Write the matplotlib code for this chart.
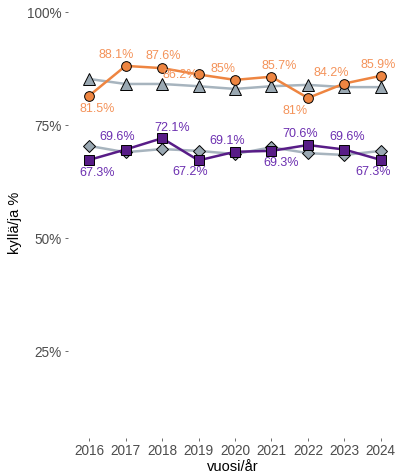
import matplotlib
matplotlib.use("Agg")
import matplotlib.pyplot as plt
from matplotlib.ticker import FuncFormatter

plt.rcParams['font.family'] = ['Liberation Sans', 'DejaVu Sans']

years = [2016, 2017, 2018, 2019, 2020, 2021, 2022, 2023, 2024]
orange_vals = [81.5, 88.1, 87.6, 86.2, 85.0, 85.7, 81.0, 84.2, 85.9]
gray_high = [85.2, 84.1, 84.1, 83.6, 83.0, 83.6, 83.9, 83.4, 83.4]
purple_vals = [67.3, 69.6, 72.1, 67.2, 69.1, 69.3, 70.6, 69.6, 67.3]
gray_low = [70.4, 69.0, 69.7, 69.3, 68.6, 70.1, 68.8, 68.4, 69.3]

orange_labels = ['81.5%', '88.1%', '87.6%', '86.2%', '85%', '85.7%', '81%', '84.2%', '85.9%']
purple_labels = ['67.3%', '69.6%', '72.1%', '67.2%', '69.1%', '69.3%', '70.6%', '69.6%', '67.3%']

# label offsets in pixels (dx, dy), dy positive = up
orange_off = [(8, -13), (-9, 11), (1, 12), (-18, -1), (-12, 11), (8, 11), (-13, -13), (-13, 11), (-3, 11)]
purple_off = [(8, -13), (-8, 13), (10, 10), (-8, -12), (-8, 11), (10, -12), (-8, 11), (3, 13), (-8, -12)]

orange = '#EE8541'
orange_txt = '#F4935A'
purple = '#581C87'
purple_txt = '#6C2FB0'
gray_line = '#A7B4BE'
gray_fill = '#9AA8B2'

fig = plt.figure(figsize=(3.98, 4.73), dpi=100)
ax = fig.add_axes([68 / 398, 35 / 473, 330 / 398, 430 / 473])

ax.plot(years, [v / 100 for v in gray_high], color=gray_line, lw=1.8, marker='^', ms=8,
        mfc=gray_fill, mec='black', mew=0.7, zorder=2)
ax.plot(years, [v / 100 for v in gray_low], color=gray_line, lw=1.8, marker='D', ms=6.5,
        mfc=gray_fill, mec='black', mew=0.7, zorder=2)
ax.plot(years, [v / 100 for v in orange_vals], color=orange, lw=1.8, marker='o', ms=7,
        mfc=orange, mec='black', mew=0.7, zorder=3)
ax.plot(years, [v / 100 for v in purple_vals], color=purple, lw=1.8, marker='s', ms=6.5,
        mfc=purple, mec='black', mew=0.7, zorder=3)

for x, v, lab, (dx, dy) in zip(years, orange_vals, orange_labels, orange_off):
    ax.annotate(lab, (x, v / 100), xytext=(dx * 0.72, dy * 0.72), textcoords='offset points',
                ha='center', va='center', fontsize=9, color=orange_txt, zorder=4)
for x, v, lab, (dx, dy) in zip(years, purple_vals, purple_labels, purple_off):
    ax.annotate(lab, (x, v / 100), xytext=(dx * 0.72, dy * 0.72), textcoords='offset points',
                ha='center', va='center', fontsize=9, color=purple_txt, zorder=4)

ax.set_xlim(2015.42, 2024.47)
ax.set_ylim(0.058, 1.009)
ax.set_xticks(years)
ax.set_yticks([0.25, 0.5, 0.75, 1.0])
ax.yaxis.set_major_formatter(FuncFormatter(lambda v, p: f"{int(round(v * 100))}%"))
for s in ax.spines.values():
    s.set_visible(False)
ax.tick_params(axis='both', colors='#555555', labelsize=9.8, length=2.5, width=0.6, pad=2)
ax.tick_params(axis='both', labelcolor='#4D4D4D')
ax.set_xlabel('vuosi/år', fontsize=10.5, color='black', labelpad=1)
ax.set_ylabel('kyllä/ja %', fontsize=10.5, color='black', labelpad=4)

fig.savefig('out.png', dpi=100)
